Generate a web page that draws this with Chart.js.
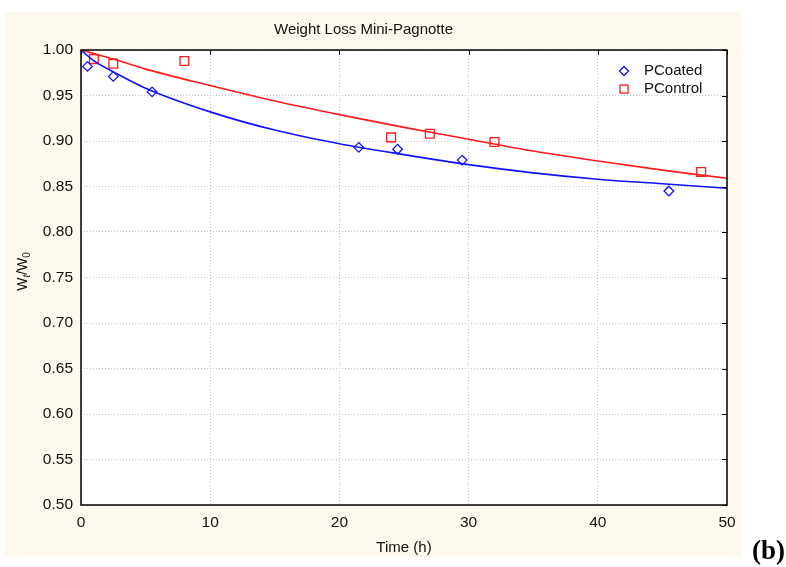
<!DOCTYPE html>
<html>
<head>
<meta charset="utf-8">
<script src="https://cdn.jsdelivr.net/npm/chart.js@4.4.1/dist/chart.umd.min.js"></script>
<style>
  html, body { margin: 0; padding: 0; background: #ffffff; }
  #wrap { width: 786px; height: 567px; position: relative; }
</style>
</head>
<body>
<div id="wrap"><canvas id="lossChart" width="786" height="567"></canvas></div>
<script>
// measured points
const timeCoated = [0.5, 2.5, 5.5, 21.5, 24.5, 29.5, 45.5];
const wCoated = [0.982, 0.971, 0.954, 0.893, 0.891, 0.879, 0.845];
const timeControl = [1, 2.5, 8, 24, 27, 32, 48];
const wControl = [0.990, 0.985, 0.988, 0.904, 0.908, 0.899, 0.866];

// fitted curves
const fitTime = [0, 1, 2.5, 5, 10, 15, 20, 25, 30, 35, 40, 45, 50];
const fitCoated = [1.000, 0.988, 0.976, 0.958, 0.932, 0.912, 0.897, 0.885, 0.874, 0.865, 0.858, 0.853, 0.848];
const fitControl = [1.000, 0.996, 0.990, 0.979, 0.961, 0.944, 0.929, 0.915, 0.902, 0.889, 0.878, 0.868, 0.859];

const seriesNames = ['PCoated', 'PControl'];
const xTicks = [0, 10, 20, 30, 40, 50];
const yTicks = [0.50, 0.55, 0.60, 0.65, 0.70, 0.75, 0.80, 0.85, 0.90, 0.95, 1.00];

const BLUE = '#1010ff';
const RED = '#ff1a1a';
const FONT = "'Liberation Sans', Arial, sans-serif";

function pairs(xs, ys) {
    return xs.map((x, i) => ({ x: x, y: ys[i] }));
}

const framePlugin = {
    id: 'frame',
    beforeDraw(chart) {
        const ctx = chart.ctx;
        const a = chart.chartArea;
        ctx.save();
        ctx.fillStyle = '#fdf9ee';
        ctx.fillRect(5, 12, 737, 545);
        ctx.fillStyle = '#ffffff';
        ctx.fillRect(a.left, a.top, a.right - a.left, a.bottom - a.top);
        ctx.restore();
    },
    afterDraw(chart) {
        const ctx = chart.ctx;
        const a = chart.chartArea;
        const xs = chart.scales.x;
        const ys = chart.scales.y;
        ctx.save();

        // plot box
        ctx.strokeStyle = '#000';
        ctx.lineWidth = 1.5;
        ctx.strokeRect(a.left, a.top, a.right - a.left, a.bottom - a.top);

        // inward ticks on top and right edges
        ctx.lineWidth = 1;
        ctx.beginPath();
        xTicks.forEach(v => {
            const px = Math.round(xs.getPixelForValue(v)) + 0.5;
            ctx.moveTo(px, a.top);
            ctx.lineTo(px, a.top + 5);
        });
        yTicks.forEach(v => {
            const py = Math.round(ys.getPixelForValue(v)) + 0.5;
            ctx.moveTo(a.right, py);
            ctx.lineTo(a.right - 5, py);
        });
        ctx.stroke();

        // legend
        const lx = 624;
        const rows = [71, 89];
        ctx.font = '15px ' + FONT;
        ctx.textBaseline = 'middle';
        ctx.textAlign = 'left';
        ctx.lineWidth = 1.3;
        ctx.strokeStyle = BLUE;
        ctx.beginPath();
        ctx.moveTo(lx, rows[0] - 4.5);
        ctx.lineTo(lx + 4.5, rows[0]);
        ctx.lineTo(lx, rows[0] + 4.5);
        ctx.lineTo(lx - 4.5, rows[0]);
        ctx.closePath();
        ctx.stroke();
        ctx.strokeStyle = RED;
        ctx.strokeRect(lx - 4, rows[1] - 4, 8, 8);
        ctx.fillStyle = '#111';
        ctx.fillText(seriesNames[0], lx + 20, rows[0]);
        ctx.fillText(seriesNames[1], lx + 20, rows[1]);

        // y axis title W_t/W_0
        const cy = (a.top + a.bottom) / 2 - 6;
        ctx.translate(23, cy);
        ctx.rotate(-Math.PI / 2);
        const big = '14px ' + FONT;
        const subIt = 'italic 10px ' + FONT;
        const sub = '10px ' + FONT;
        const parts = [
            { t: 'W', f: big, dy: 0 },
            { t: 't', f: subIt, dy: 4 },
            { t: '/W', f: big, dy: 0 },
            { t: '0', f: sub, dy: 4 }
        ];
        let total = 0;
        parts.forEach(p => { ctx.font = p.f; p.w = ctx.measureText(p.t).width; total += p.w; });
        let px = -total / 2;
        ctx.textBaseline = 'middle';
        parts.forEach(p => {
            ctx.font = p.f;
            ctx.fillText(p.t, px, p.dy);
            px += p.w;
        });
        ctx.setTransform(1, 0, 0, 1, 0, 0);

        // panel label
        ctx.font = "bold 27px 'Liberation Serif', 'Times New Roman', serif";
        ctx.textAlign = 'right';
        ctx.textBaseline = 'alphabetic';
        ctx.fillStyle = '#000';
        ctx.fillText('(b)', 785, 559);
        ctx.restore();
    }
};

const ctx = document.getElementById('lossChart').getContext('2d');
const lossChart = new Chart(ctx, {
    type: 'scatter',
    data: {
        datasets: [
            {
                label: seriesNames[0] + ' fit',
                data: pairs(fitTime, fitCoated),
                showLine: true,
                borderColor: BLUE,
                borderWidth: 1.6,
                pointRadius: 0,
                cubicInterpolationMode: 'monotone'
            },
            {
                label: seriesNames[1] + ' fit',
                data: pairs(fitTime, fitControl),
                showLine: true,
                borderColor: RED,
                borderWidth: 1.6,
                pointRadius: 0,
                cubicInterpolationMode: 'monotone'
            },
            {
                label: seriesNames[0],
                data: pairs(timeCoated, wCoated),
                pointStyle: 'rectRot',
                pointRadius: 4.8,
                borderColor: BLUE,
                backgroundColor: 'rgba(0,0,0,0)',
                pointBorderWidth: 1.3
            },
            {
                label: seriesNames[1],
                data: pairs(timeControl, wControl),
                pointStyle: 'rect',
                pointRadius: 6.2,
                borderColor: RED,
                backgroundColor: 'rgba(0,0,0,0)',
                pointBorderWidth: 1.3
            }
        ]
    },
    options: {
        responsive: false,
        animation: false,
        devicePixelRatio: 1,
        layout: { padding: { top: 12, left: 0, right: 59, bottom: 10 } },
        plugins: {
            legend: { display: false },
            tooltip: { enabled: false },
            title: {
                display: true,
                text: 'Weight Loss Mini-Pagnotte',
                color: '#111',
                font: { family: FONT, size: 15, weight: 'normal' },
                padding: { top: 9, bottom: 11 }
            }
        },
        scales: {
            x: {
                type: 'linear',
                min: 0,
                max: 50,
                afterBuildTicks: s => { s.ticks = xTicks.map(v => ({ value: v })); },
                afterFit: s => { s.height = 52; },
                grid: { color: '#c4c4c4', lineWidth: 1, drawTicks: false },
                border: { display: false, dash: [1, 2] },
                ticks: { color: '#111', padding: 8, font: { family: FONT, size: 15.5 } },
                title: {
                    display: true,
                    text: 'Time (h)',
                    color: '#111',
                    font: { family: FONT, size: 15 },
                    padding: { top: 0, bottom: 0 }
                }
            },
            y: {
                type: 'linear',
                min: 0.5,
                max: 1.0,
                afterBuildTicks: s => { s.ticks = yTicks.map(v => ({ value: v })); },
                afterFit: s => { s.width = 81; },
                grid: { color: '#c4c4c4', lineWidth: 1, drawTicks: false },
                border: { display: false, dash: [1, 2] },
                ticks: {
                    color: '#111',
                    padding: 8,
                    font: { family: FONT, size: 15.5 },
                    callback: v => Number(v).toFixed(2)
                }
            }
        }
    },
    plugins: [framePlugin]
});
</script>
</body>
</html>
